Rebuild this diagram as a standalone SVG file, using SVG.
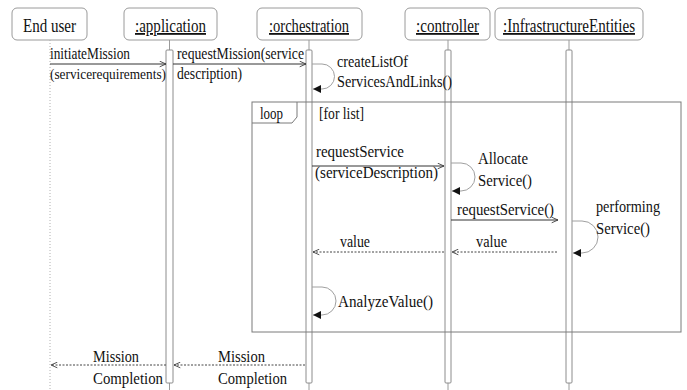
<svg xmlns="http://www.w3.org/2000/svg" width="687" height="390" viewBox="0 0 687 390" font-family="'Liberation Serif', 'DejaVu Serif', serif">
  <style>
    .head { fill: #fff; stroke: #9a9a9a; stroke-width: 1; }
    .bar { fill: #fff; stroke: #8c8c8c; stroke-width: 1; }
    .life { stroke: #9a9a9a; stroke-width: 1; fill: none; }
    .dotted { stroke: #b0b0b0; stroke-width: 1; stroke-dasharray: 1 2; fill: none; }
    .frame { fill: none; stroke: #7a7a7a; stroke-width: 1; }
    .msg { stroke: #333; stroke-width: 1; fill: none; }
    .ret { stroke: #444; stroke-width: 1; fill: none; stroke-dasharray: 2 1.5; }
    .self { stroke: #a0a0a0; stroke-width: 1; fill: none; }
    text { fill: #111; }
    .ht { font-size: 18px; }
    .ul { text-decoration: underline; }
    .mt { font-size: 16px; }
    .mt.narrow { font-size: 14.4px; }
  </style>
  <defs>
    <marker id="open" viewBox="0 0 10 10" refX="10" refY="5" markerWidth="7" markerHeight="7" orient="auto" markerUnits="userSpaceOnUse">
      <path d="M1,1 L10,5 L1,9" fill="none" stroke="#333" stroke-width="1.2"/>
    </marker>
    <marker id="fill" viewBox="0 0 10 10" refX="10" refY="5" markerWidth="8" markerHeight="8" orient="auto" markerUnits="userSpaceOnUse">
      <path d="M0,0 L10,5 L0,10 Z" fill="#111"/>
    </marker>
  </defs>

  <rect width="687" height="390" fill="#fff"/>

  <!-- lifelines -->
  <g id="endUser">
    <rect class="head" x="12" y="8" width="75" height="32" rx="5"/>
    <text class="ht" x="23" y="32" textLength="53" lengthAdjust="spacingAndGlyphs">End user</text>
    <line class="dotted" x1="50" y1="40" x2="50" y2="390"/>
  </g>
  <g id="application">
    <rect class="head" x="124" y="8" width="93" height="32" rx="5"/>
    <text class="ht ul" x="135" y="32" textLength="71" lengthAdjust="spacingAndGlyphs">:application</text>
    <line class="life" x1="169.5" y1="40" x2="169.5" y2="390"/>
    <rect class="bar" x="166" y="50" width="7" height="333" rx="1"/>
  </g>
  <g id="orchestration">
    <rect class="head" x="257" y="8" width="105" height="32" rx="5"/>
    <text class="ht ul" x="269" y="32" textLength="80" lengthAdjust="spacingAndGlyphs">:orchestration</text>
    <line class="life" x1="309" y1="40" x2="309" y2="390"/>
    <rect class="bar" x="306" y="50" width="6" height="333" rx="1"/>
  </g>
  <g id="controller">
    <rect class="head" x="405" y="8" width="85" height="32" rx="5"/>
    <text class="ht ul" x="416" y="32" textLength="63" lengthAdjust="spacingAndGlyphs">:controller</text>
    <line class="life" x1="448" y1="40" x2="448" y2="390"/>
    <rect class="bar" x="445" y="50" width="6" height="333" rx="1"/>
  </g>
  <g id="infrastructureEntities">
    <rect class="head" x="495" y="8" width="148" height="32" rx="5"/>
    <text class="ht ul" x="503" y="32" textLength="132" lengthAdjust="spacingAndGlyphs">:InfrastructureEntities</text>
    <line class="life" x1="569" y1="40" x2="569" y2="390"/>
    <rect class="bar" x="566" y="50" width="6" height="333" rx="1"/>
  </g>

  <!-- combined fragment -->
  <g id="loopFrame">
    <rect class="frame" x="252" y="102" width="429" height="230"/>
    <path class="frame" d="M252,123 H292 L297,117 V102"/>
    <text class="mt" x="260" y="119" textLength="23" lengthAdjust="spacingAndGlyphs">loop</text>
    <text class="mt" x="319" y="119" textLength="45" lengthAdjust="spacingAndGlyphs">[for list]</text>
  </g>

  <!-- messages -->
  <g id="connectors">
    <line class="msg" x1="50" y1="64" x2="166" y2="64" marker-end="url(#open)"/>
    <line class="msg" x1="173" y1="64" x2="306" y2="64" marker-end="url(#open)"/>
    <path class="self" d="M312,64 H322 A12.5,12.5 0 0 1 322,89 H313" marker-end="url(#fill)"/>
    <line class="msg" x1="312" y1="166" x2="444" y2="166" marker-end="url(#open)"/>
    <path class="self" d="M451,163 H461 A14,14 0 0 1 461,191 H452" marker-end="url(#fill)"/>
    <line class="msg" x1="451" y1="220" x2="558" y2="220" marker-end="url(#open)"/>
    <path class="self" d="M572,221 H582 A16,16 0 0 1 582,253 H573" marker-end="url(#fill)"/>
    <line class="ret" x1="557" y1="252" x2="452" y2="252" marker-end="url(#open)"/>
    <line class="ret" x1="444" y1="252" x2="313" y2="252" marker-end="url(#open)"/>
    <path class="self" d="M312,287 H322 A14,14 0 0 1 322,315 H313" marker-end="url(#fill)"/>
    <line class="ret" x1="166" y1="365" x2="51" y2="365" marker-end="url(#open)"/>
    <line class="ret" x1="305" y1="365" x2="174" y2="365" marker-end="url(#open)"/>
  </g>

  <!-- message labels -->
  <g id="labels">
    <text class="mt" x="50" y="59" textLength="80" lengthAdjust="spacingAndGlyphs">initiateMission</text>
    <text class="mt narrow" x="50" y="79" textLength="116" lengthAdjust="spacingAndGlyphs">(servicerequirements)</text>
    <text class="mt" x="177" y="59" textLength="127" lengthAdjust="spacingAndGlyphs">requestMission(service</text>
    <text class="mt" x="177" y="79" textLength="65" lengthAdjust="spacingAndGlyphs">description)</text>
    <text class="mt" x="337" y="67" textLength="71" lengthAdjust="spacingAndGlyphs">createListOf</text>
    <text class="mt" x="337" y="87" textLength="115" lengthAdjust="spacingAndGlyphs">ServicesAndLinks()</text>
    <text class="mt" x="316" y="157" textLength="88" lengthAdjust="spacingAndGlyphs">requestService</text>
    <text class="mt" x="315" y="178" textLength="123" lengthAdjust="spacingAndGlyphs">(serviceDescription)</text>
    <text class="mt" x="478" y="164" textLength="50" lengthAdjust="spacingAndGlyphs">Allocate</text>
    <text class="mt" x="478" y="186" textLength="54" lengthAdjust="spacingAndGlyphs">Service()</text>
    <text class="mt" x="457" y="215" textLength="97" lengthAdjust="spacingAndGlyphs">requestService()</text>
    <text class="mt" x="596" y="212" textLength="64" lengthAdjust="spacingAndGlyphs">performing</text>
    <text class="mt" x="596" y="234" textLength="54" lengthAdjust="spacingAndGlyphs">Service()</text>
    <text class="mt" x="340" y="247" textLength="30" lengthAdjust="spacingAndGlyphs">value</text>
    <text class="mt" x="476" y="247" textLength="31" lengthAdjust="spacingAndGlyphs">value</text>
    <text class="mt" x="338" y="307" textLength="95" lengthAdjust="spacingAndGlyphs">AnalyzeValue()</text>
    <text class="mt" x="93" y="362" textLength="46" lengthAdjust="spacingAndGlyphs">Mission</text>
    <text class="mt" x="93" y="384" textLength="70" lengthAdjust="spacingAndGlyphs">Completion</text>
    <text class="mt" x="218" y="362" textLength="47" lengthAdjust="spacingAndGlyphs">Mission</text>
    <text class="mt" x="218" y="384" textLength="69" lengthAdjust="spacingAndGlyphs">Completion</text>
  </g>
</svg>
